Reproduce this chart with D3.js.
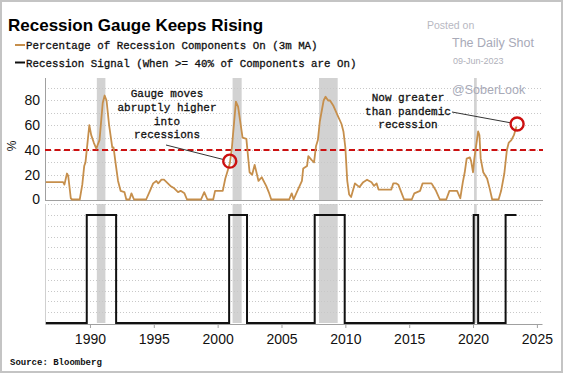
<!DOCTYPE html>
<html><head><meta charset="utf-8">
<script src="https://cdn.jsdelivr.net/npm/d3@7"></script>
<style>body{margin:0;background:#fff;} svg{display:block}</style>
</head><body><svg id="c" width="564" height="374"></svg>
<script>
// ---- data ----
const gaugeYears = [1986.55,1987.9,1988.0,1988.2,1988.3,1988.5,1988.6,1989.2,1989.4,1989.55,1989.65,1989.95,1990.1,1990.3,1990.5,1990.6,1990.75,1991.0,1991.15,1991.3,1991.5,1991.75,1991.85,1992.0,1992.2,1992.4,1992.7,1992.85,1993.1,1993.25,1993.45,1994.4,1994.7,1994.95,1995.2,1995.35,1995.6,1995.8,1996.0,1996.3,1996.6,1996.9,1997.1,1997.4,1997.6,1998.7,1998.95,1999.2,1999.65,1999.8,2000.4,2000.6,2000.75,2000.95,2001.1,2001.2,2001.43,2001.6,2001.95,2002.25,2002.35,2002.5,2002.7,2002.9,2003.2,2003.45,2003.8,2004.0,2004.2,2005.6,2005.8,2005.95,2006.2,2006.6,2006.7,2007.0,2007.1,2007.35,2007.55,2007.7,2007.85,2008.0,2008.3,2008.45,2008.65,2008.8,2009.05,2009.35,2009.7,2009.85,2010.0,2010.15,2010.3,2010.45,2010.75,2011.1,2011.4,2011.7,2012.05,2012.25,2012.45,2012.6,2013.6,2013.75,2014.0,2014.15,2014.3,2014.6,2015.2,2015.4,2015.85,2016.05,2016.75,2017.1,2017.4,2017.9,2018.15,2018.75,2019.0,2019.2,2019.35,2019.5,2019.75,2019.85,2020.0,2020.1,2020.4,2020.5,2020.6,2020.8,2021.1,2021.3,2021.5,2022.0,2022.2,2022.45,2022.65,2022.8,2023.0,2023.2,2023.4];
const gaugeValues = [14,14,12,21,19,1,0,0,12,27,30,60,52,46,41,44,48,78,84,80,60,42,42,30,15,7,6,0,0,5,0,0,7,13,15,13,16,16,14,11,9,6,7,5,0,0,6,0,0,7,7,17,22,29,40,52,79,75,50,49,38,22,20,28,15,18,11,6,0,0,5,0,6,15,25,27,35,32,30,43,48,63,80,83,80,80,76,69,61,55,42,15,4,2,13,10,14,16,14,11,13,8,8,13,13,12,8,0,0,5,7,13,13,7,0,0,7,7,1,14,22,33,34,31,22,33,55,52,33,22,17,9,0,0,7,21,40,46,48,52,59];
const signalYears = [1986.55,1989.75,1992.05,2000.9,2002.3,2007.6,2009.95,2020.05,2020.4,2022.55,2023.4];
const signalValues = [0,1,0,1,0,1,0,1,0,1,1];
const recessionStarts = [1990.54,2001.17,2007.94,2020.08];
const recessionEnds = [1991.21,2001.88,2009.4,2020.29];
const xTickYears = [1990,1995,2000,2005,2010,2015,2020,2025];
const yTickValues = [0,20,40,60,80];
const thresholdValue = 40;
const highlightYears = [2000.95,2023.45];
const highlightValues = [31,61];
const legendLabels = ["Percentage of Recession Components On (3m MA)","Recession Signal (When >= 40% of Components are On)"];
const noteLines1 = ["Gauge moves","abruptly higher","into","recessions"];
const noteLines2 = ["Now greater","than pandemic","recession"];

// ---- styles ----
const gaugeColor = "#c68f4c";
const redColor = "#cc1010";
const shadeColor = "#d2d2d2";
const gridColor = "#c8c8c8";
const axisColor = "#a0a0a0";
const mono = "'Liberation Mono', 'DejaVu Sans Mono', monospace";
const sans = "'Liberation Sans', Arial, sans-serif";

const svg = d3.select("#c");
svg.append("rect").attr("x",1).attr("y",1).attr("width",561).attr("height",371)
  .attr("fill","#fff").attr("stroke","#c4c4c4").attr("stroke-width",2);

const x = d3.scaleLinear().domain([1986.48, 2025.4]).range([45, 542]);
const yTop = d3.scaleLinear().domain([0, 98]).range([199.5, 78.2]);
const yBot = d3.scaleLinear().domain([0, 1.1]).range([323, 204.2]);

// shading
[[yTop,78,200],[yBot,204,323]].forEach(([sc,t,b])=>{
  svg.append("g").selectAll("rect").data(recessionStarts).join("rect")
    .attr("x",(d)=>x(d)).attr("width",(d,i)=>Math.max(1.5,x(recessionEnds[i])-x(d)))
    .attr("y",t).attr("height",b-t).attr("fill",shadeColor);
});

// gridlines
svg.append("g").selectAll("line").data(d3.range(10,100,10)).join("line")
  .attr("x1",45).attr("x2",543).attr("y1",d=>Math.round(yTop(d))+0.5).attr("y2",d=>Math.round(yTop(d))+0.5)
  .attr("stroke",gridColor).attr("stroke-dasharray","1,2");
svg.append("g").selectAll("line").data(d3.range(1,12).map(d=>d/10)).join("line")
  .attr("x1",45).attr("x2",543).attr("y1",d=>Math.round(yBot(d))+0.5).attr("y2",d=>Math.round(yBot(d))+0.5)
  .attr("stroke",gridColor).attr("stroke-dasharray","1,2");

// axes lines
svg.append("line").attr("x1",45.5).attr("x2",45.5).attr("y1",78).attr("y2",200.5).attr("stroke",axisColor);
svg.append("line").attr("x1",45).attr("x2",543).attr("y1",200.5).attr("y2",200.5).attr("stroke",axisColor);
svg.append("line").attr("x1",45.5).attr("x2",45.5).attr("y1",204).attr("y2",324).attr("stroke","#d0d0d0");

// top y axis labels
const yAx = svg.append("g").attr("transform","translate(45,0)")
  .call(d3.axisLeft(yTop).tickValues(yTickValues).tickSize(0).tickPadding(5));
yAx.select(".domain").remove();
yAx.selectAll("text").attr("font-family",sans).attr("font-size",14).attr("fill","#111");

svg.append("text").attr("transform","translate(16,146) rotate(-90)").attr("text-anchor","middle")
  .attr("font-family",sans).attr("font-size",12).attr("fill","#111").text("%");

// bottom x axis
const xAx = svg.append("g").attr("transform","translate(0,324)")
  .call(d3.axisBottom(x).tickValues(xTickYears).tickFormat(d3.format("d")).tickSize(4).tickSizeOuter(0).tickPadding(6));
xAx.select(".domain").attr("stroke",axisColor);
xAx.selectAll(".tick line").attr("stroke",axisColor);
xAx.selectAll("text").attr("font-family",sans).attr("font-size",14).attr("fill","#111");

// threshold
svg.append("line").attr("x1",45).attr("x2",543).attr("y1",yTop(thresholdValue)).attr("y2",yTop(thresholdValue))
  .attr("stroke",redColor).attr("stroke-width",2.2).attr("stroke-dasharray","6,3.5");

// gauge line
const gaugeData = gaugeYears.map((d,i)=>[d,gaugeValues[i]]);
svg.append("path").datum(gaugeData)
  .attr("d",d3.line().x(d=>x(d[0])).y(d=>yTop(d[1])))
  .attr("fill","none").attr("stroke",gaugeColor).attr("stroke-width",1.8).attr("stroke-linejoin","round");

// signal line
const sigData = signalYears.map((d,i)=>[d,signalValues[i]]);
svg.append("path").datum(sigData)
  .attr("d",d3.line().curve(d3.curveStepAfter).x(d=>x(d[0])).y(d=>yBot(d[1])))
  .attr("fill","none").attr("stroke","#111").attr("stroke-width",2);

// annotations
const r = 6.5;
function leader(x1,y1,i){
  const cx=x(highlightYears[i]), cy=yTop(highlightValues[i]);
  const dx=cx-x1, dy=cy-y1, L=Math.hypot(dx,dy);
  svg.append("line").attr("x1",x1).attr("y1",y1).attr("x2",cx-dx/L*r).attr("y2",cy-dy/L*r)
    .attr("stroke","#333").attr("stroke-width",1);
}
leader(166,145,0);
leader(452,112,1);
svg.append("g").selectAll("circle").data(highlightYears).join("circle")
  .attr("cx",d=>x(d)).attr("cy",(d,i)=>yTop(highlightValues[i])).attr("r",r)
  .attr("fill","none").attr("stroke",redColor).attr("stroke-width",2.4);

svg.append("g").selectAll("text").data(noteLines1).join("text")
  .attr("x",167).attr("y",(d,i)=>97.3+i*13.7).attr("text-anchor","middle")
  .attr("font-family",mono).attr("font-size",11).attr("fill","#111")
  .attr("stroke","#111").attr("stroke-width",0.3).text(d=>d);
svg.append("g").selectAll("text").data(noteLines2).join("text")
  .attr("x",408).attr("y",(d,i)=>100.7+i*13.8).attr("text-anchor","middle")
  .attr("font-family",mono).attr("font-size",11).attr("fill","#111")
  .attr("stroke","#111").attr("stroke-width",0.3).text(d=>d);

// title & legend
svg.append("text").attr("x",8).attr("y",30.5).attr("font-family",sans).attr("font-weight","bold")
  .attr("font-size",17).attr("fill","#000").text("Recession Gauge Keeps Rising");
const legColors=[gaugeColor,"#111"];
legendLabels.forEach((t,i)=>{
  const yy = 45 + i*17.5;
  svg.append("line").attr("x1",15).attr("x2",25).attr("y1",yy).attr("y2",yy).attr("stroke",legColors[i]).attr("stroke-width",2);
  svg.append("text").attr("x",26).attr("y",yy+4).attr("font-family",mono).attr("font-size",10.8).attr("fill","#111")
    .attr("stroke","#111").attr("stroke-width",0.3).text(t);
});

// watermark
svg.append("text").attr("x",427).attr("y",29.3).attr("font-family",sans).attr("font-size",10.5).attr("fill","#b8b8c2").text("Posted on");
svg.append("text").attr("x",452).attr("y",47).attr("font-family",sans).attr("font-size",12.5).attr("fill","#a8aab8").text("The Daily Shot");
svg.append("text").attr("x",453).attr("y",64).attr("font-family",sans).attr("font-size",9).attr("fill","#b0b0ba").text("09-Jun-2023");
svg.append("text").attr("x",452).attr("y",94).attr("font-family",sans).attr("font-size",12.5).attr("fill","#a8aab8").text("@SoberLook");

svg.append("text").attr("x",10).attr("y",365).attr("font-family",mono).attr("font-weight","bold")
  .attr("font-size",9).attr("fill","#111").text("Source: Bloomberg");
</script></body></html>
